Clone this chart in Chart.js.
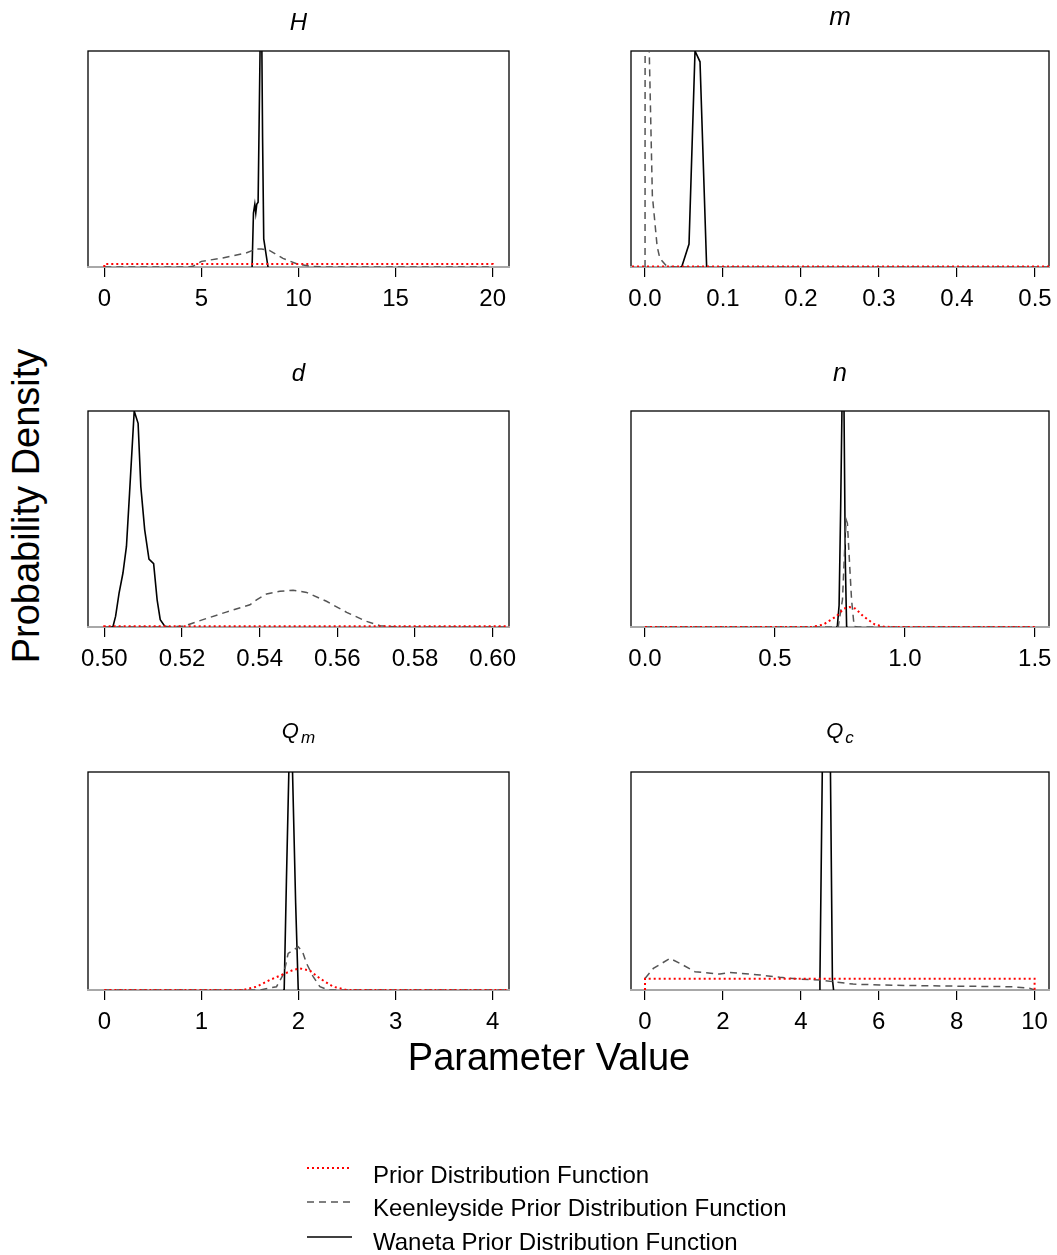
<!DOCTYPE html>
<html>
<head>
<meta charset="utf-8">
<script src="https://cdn.jsdelivr.net/npm/chart.js@4.4.0/dist/chart.umd.min.js"></script>
<style>
  body { margin: 0; background: #fff; overflow: hidden; }
  #page { position: relative; width: 1057px; height: 1255px; font-family: 'Liberation Sans', Arial, sans-serif; overflow: hidden; }
  #page canvas { position: absolute; }
  .txt { position: absolute; white-space: nowrap; line-height: 1; color: #000; }
</style>
</head>
<body>
<div id="page">
  <canvas id="cH"></canvas>
  <canvas id="cM"></canvas>
  <canvas id="cD"></canvas>
  <canvas id="cN"></canvas>
  <canvas id="cQm"></canvas>
  <canvas id="cQc"></canvas>
  <div class="txt" id="ytitle" style="font-size:38px; left:26px; top:506px; transform:translate(-50%,-50%) rotate(-90deg);">Probability Density</div>
  <div class="txt" id="xtitle" style="font-size:38px; left:549px; top:1038px; transform:translateX(-50%);">Parameter Value</div>
  <svg id="legendLines" width="1057" height="1255" style="position:absolute; left:0; top:0;"></svg>
</div>

<script>
// tick labels for each panel
const hTicks = ['0', '5', '10', '15', '20'];
const mTicks = ['0.0', '0.1', '0.2', '0.3', '0.4', '0.5'];
const dTicks = ['0.50', '0.52', '0.54', '0.56', '0.58', '0.60'];
const nTicks = ['0.0', '0.5', '1.0', '1.5'];
const qmTicks = ['0', '1', '2', '3', '4'];
const qcTicks = ['0', '2', '4', '6', '8', '10'];

// x axis limits
const hRange = [-0.84, 20.84];
const mRange = [-0.018, 0.518];
const dRange = [0.4958, 0.6042];
const nRange = [-0.054, 1.555];
const qmRange = [-0.169, 4.168];
const qcRange = [-0.36, 10.37];

// densities, [x, y] with y scaled so the top of each panel is 1
const hPrior = [[0, 0], [0, 0.014], [20, 0.014], [20, 0]];
const hKeen = [[0, 0], [4.3, 0], [4.57, 0.003], [5.0, 0.026], [6.1, 0.042], [7.3, 0.065], [7.8, 0.083],
  [8.1, 0.083], [8.5, 0.077], [9.2, 0.04], [9.9, 0.015], [10.6, 0.003], [11.5, 0], [20, 0]];
const hWaneta = [[7.61, 0], [7.68, 0.25], [7.75, 0.29], [7.8, 0.25], [7.85, 0.29], [7.92, 0.3],
  [8.02, 1.0], [8.11, 1.05], [8.15, 0.6], [8.21, 0.13], [8.43, 0]];

const mPrior = [[-0.1, 0.002], [1.0, 0.002]];
const mKeen = [[0, 0], [0.0001, 1.2], [0.0042, 1.2], [0.0094, 0.33], [0.0155, 0.096], [0.019, 0.04],
  [0.028, 0.003], [0.04, 0], [0.52, 0]];
const mWaneta = [[0.045, 0], [0.047, 0], [0.0564, 0.106], [0.0641, 1.0], [0.0705, 0.95], [0.079, 0], [0.081, 0]];

const dPrior = [[0.5, 0], [0.5, 0.003], [0.62, 0.003]];
const dKeen = [[0.5, 0], [0.5151, 0], [0.5203, 0.003], [0.5254, 0.034], [0.5314, 0.069], [0.5375, 0.103],
  [0.5392, 0.126], [0.5418, 0.153], [0.5452, 0.165], [0.5486, 0.17], [0.5521, 0.16], [0.5572, 0.119],
  [0.5624, 0.068], [0.5675, 0.026], [0.571, 0.006], [0.5753, 0], [0.62, 0]];
const dWaneta = [[0.5015, 0], [0.5022, 0], [0.5029, 0.049], [0.5038, 0.157], [0.5048, 0.25], [0.5057, 0.373],
  [0.5065, 0.62], [0.5077, 1.0], [0.5087, 0.943], [0.5094, 0.65], [0.5104, 0.45], [0.5115, 0.314],
  [0.5127, 0.293], [0.5136, 0.126], [0.5144, 0.034], [0.5156, 0.003], [0.517, 0]];

const nPrior = [[0, 0], [0.64, 0], [0.686, 0.011], [0.737, 0.05], [0.765, 0.085], [0.788, 0.092],
  [0.81, 0.085], [0.84, 0.05], [0.885, 0.011], [0.917, 0.002], [0.95, 0], [1.5, 0]];
const nKeen = [[0, 0], [0.7436, 0], [0.76, 0.126], [0.769, 0.373], [0.7744, 0.496], [0.779, 0.48],
  [0.788, 0.28], [0.795, 0.126], [0.805, 0.003], [0.82, 0], [1.5, 0]];
const nWaneta = [[0.735, 0], [0.74, 0], [0.747, 0.1], [0.753, 0.55], [0.758, 1.0], [0.762, 1.1],
  [0.766, 1.0], [0.771, 0.3], [0.776, 0], [0.78, 0]];

const qmPrior = [[0, 0], [1.43, 0], [1.567, 0.015], [1.704, 0.046], [1.825, 0.069], [1.945, 0.092],
  [2.014, 0.099], [2.117, 0.089], [2.22, 0.053], [2.357, 0.015], [2.495, 0], [4.2, 0]];
const qmKeen = [[0, 0], [1.601, 0], [1.773, 0.015], [1.849, 0.076], [1.893, 0.168], [1.945, 0.183],
  [1.997, 0.198], [2.041, 0.176], [2.082, 0.122], [2.151, 0.061], [2.22, 0.015], [2.306, 0], [4.2, 0]];
const qmWaneta = [[1.84, 0], [1.852, 0], [1.875, 0.5], [1.9, 1.0], [1.918, 1.01], [1.938, 1.0],
  [1.97, 0.4], [1.997, 0], [2.01, 0]];

const qcPrior = [[0, 0], [0, 0.052], [10, 0.052], [10, 0]];
const qcKeen = [[0, 0.053], [0.214, 0.099], [0.641, 0.145], [0.897, 0.122], [1.282, 0.084], [1.923, 0.073],
  [2.18, 0.08], [2.95, 0.069], [3.46, 0.058], [3.97, 0.05], [4.49, 0.046], [4.83, 0.038], [5.34, 0.027],
  [6.03, 0.023], [7.05, 0.02], [7.9, 0.018], [9.44, 0.015], [9.87, 0.008], [10, 0]];
const qcWaneta = [[4.47, 0], [4.49, 0.05], [4.55, 1.0], [4.6, 3], [4.65, 5], [4.71, 3], [4.76, 1.0],
  [4.81, 0.05], [4.84, 0]];

const legendLabels = ['Prior Distribution Function', 'Keenleyside Prior Distribution Function', 'Waneta Prior Distribution Function'];

const FONT = "'Liberation Sans', Arial, sans-serif";
Chart.defaults.font.family = FONT;

const seriesStyle = [
  { color: '#ff0000', width: 2, dash: [2, 3] },
  { color: '#555555', width: 1.5, dash: [7, 5] },
  { color: '#000000', width: 1.6, dash: [] }
];

const panels = [
  { id: 'cH', left: 88, top: 51, w: 421, h: 216, ticks: hTicks, range: hRange, series: [hPrior, hKeen, hWaneta],
    title: 'H', sub: '', base: 29.5, size: 24 },
  { id: 'cM', left: 631, top: 51, w: 418, h: 216, ticks: mTicks, range: mRange, series: [mPrior, mKeen, mWaneta],
    title: 'm', sub: '', base: 25, size: 26 },
  { id: 'cD', left: 88, top: 411, w: 421, h: 216, ticks: dTicks, range: dRange, series: [dPrior, dKeen, dWaneta],
    title: 'd', sub: '', base: 380.5, size: 24 },
  { id: 'cN', left: 631, top: 411, w: 418, h: 216, ticks: nTicks, range: nRange, series: [nPrior, nKeen, nWaneta],
    title: 'n', sub: '', base: 380.5, size: 25 },
  { id: 'cQm', left: 88, top: 772, w: 421, h: 218, ticks: qmTicks, range: qmRange, series: [qmPrior, qmKeen, qmWaneta],
    title: 'Q', sub: 'm', base: 738, size: 22 },
  { id: 'cQc', left: 631, top: 772, w: 418, h: 218, ticks: qcTicks, range: qcRange, series: [qcPrior, qcKeen, qcWaneta],
    title: 'Q', sub: 'c', base: 738, size: 22 }
];

const PAD_L = 30, PAD_R = 30, PAD_T = 52, AXIS_H = 60;

// box, gray zero line and panel title, the way R draws them
const boxPlugin = {
  id: 'rbox',
  beforeDatasetsDraw(chart, args, opts) {
    const { ctx, chartArea: a } = chart;
    ctx.save();
    ctx.strokeStyle = '#000';
    ctx.lineWidth = 1.3;
    ctx.strokeRect(a.left, a.top, a.right - a.left, a.bottom - a.top);
    ctx.strokeStyle = '#a8a8a8';
    ctx.lineWidth = 2;
    ctx.beginPath();
    ctx.moveTo(a.left - 1, a.bottom);
    ctx.lineTo(a.right + 1, a.bottom);
    ctx.stroke();

    const cx = (a.left + a.right) / 2;
    const y = opts.base - opts.canvasTop;
    ctx.fillStyle = '#000';
    ctx.textBaseline = 'alphabetic';
    ctx.textAlign = 'left';
    ctx.font = 'italic ' + opts.size + 'px ' + FONT;
    const w1 = ctx.measureText(opts.title).width;
    let w2 = 0;
    const subFont = 'italic 17px ' + FONT;
    if (opts.sub) {
      ctx.font = subFont;
      w2 = ctx.measureText(opts.sub).width + 2;
    }
    const x0 = cx - (w1 + w2) / 2;
    ctx.font = 'italic ' + opts.size + 'px ' + FONT;
    ctx.fillText(opts.title, x0, y);
    if (opts.sub) {
      ctx.font = subFont;
      ctx.fillText(opts.sub, x0 + w1 + 2, y + 5);
    }
    ctx.restore();
  }
};

function toPoints(arr) {
  return arr.map(p => ({ x: p[0], y: p[1] }));
}

function drawPanel(p) {
  const canvas = document.getElementById(p.id);
  canvas.width = p.w + PAD_L + PAD_R;
  canvas.height = PAD_T + p.h + AXIS_H;
  canvas.style.left = (p.left - PAD_L) + 'px';
  canvas.style.top = (p.top - PAD_T) + 'px';
  const tickVals = p.ticks.map(Number);

  new Chart(canvas, {
    type: 'line',
    data: {
      datasets: p.series.map((s, i) => ({
        data: toPoints(s),
        borderColor: seriesStyle[i].color,
        borderWidth: seriesStyle[i].width,
        borderDash: seriesStyle[i].dash,
        pointRadius: 0,
        tension: 0,
        fill: false
      }))
    },
    options: {
      responsive: false,
      animation: false,
      devicePixelRatio: 1,
      layout: { padding: { left: PAD_L, right: PAD_R, top: PAD_T, bottom: 0 } },
      plugins: {
        legend: { display: false },
        tooltip: { enabled: false },
        rbox: { title: p.title, sub: p.sub, base: p.base, size: p.size, canvasTop: p.top - PAD_T }
      },
      scales: {
        x: {
          type: 'linear',
          min: p.range[0],
          max: p.range[1],
          afterBuildTicks: axis => { axis.ticks = tickVals.map(v => ({ value: v })); },
          afterFit: axis => { axis.height = AXIS_H; },
          ticks: {
            callback: (v, i) => p.ticks[i],
            font: { size: 24 },
            color: '#000',
            padding: 8,
            maxRotation: 0,
            autoSkip: false
          },
          grid: { drawOnChartArea: false, drawTicks: true, tickLength: 10, color: '#000', lineWidth: 1.2 },
          border: { display: false }
        },
        y: { display: false, min: 0, max: 1 }
      }
    },
    plugins: [boxPlugin]
  });
}

panels.forEach(drawPanel);

// legend under the panels
const svg = document.getElementById('legendLines');
const lineY = [1168, 1202, 1237];
const textTop = [1162.7, 1196.4, 1229.7];
legendLabels.forEach((label, i) => {
  const st = seriesStyle[i];
  const ln = document.createElementNS('http://www.w3.org/2000/svg', 'line');
  ln.setAttribute('x1', 307);
  ln.setAttribute('x2', 352);
  ln.setAttribute('y1', lineY[i]);
  ln.setAttribute('y2', lineY[i]);
  ln.setAttribute('stroke', st.color);
  ln.setAttribute('stroke-width', st.width);
  if (st.dash.length) ln.setAttribute('stroke-dasharray', st.dash.join(' '));
  svg.appendChild(ln);

  const t = document.createElement('div');
  t.className = 'txt';
  t.style.fontSize = '24px';
  t.style.left = '373px';
  t.style.top = textTop[i] + 'px';
  t.textContent = label;
  document.getElementById('page').appendChild(t);
});
</script>
</body>
</html>
